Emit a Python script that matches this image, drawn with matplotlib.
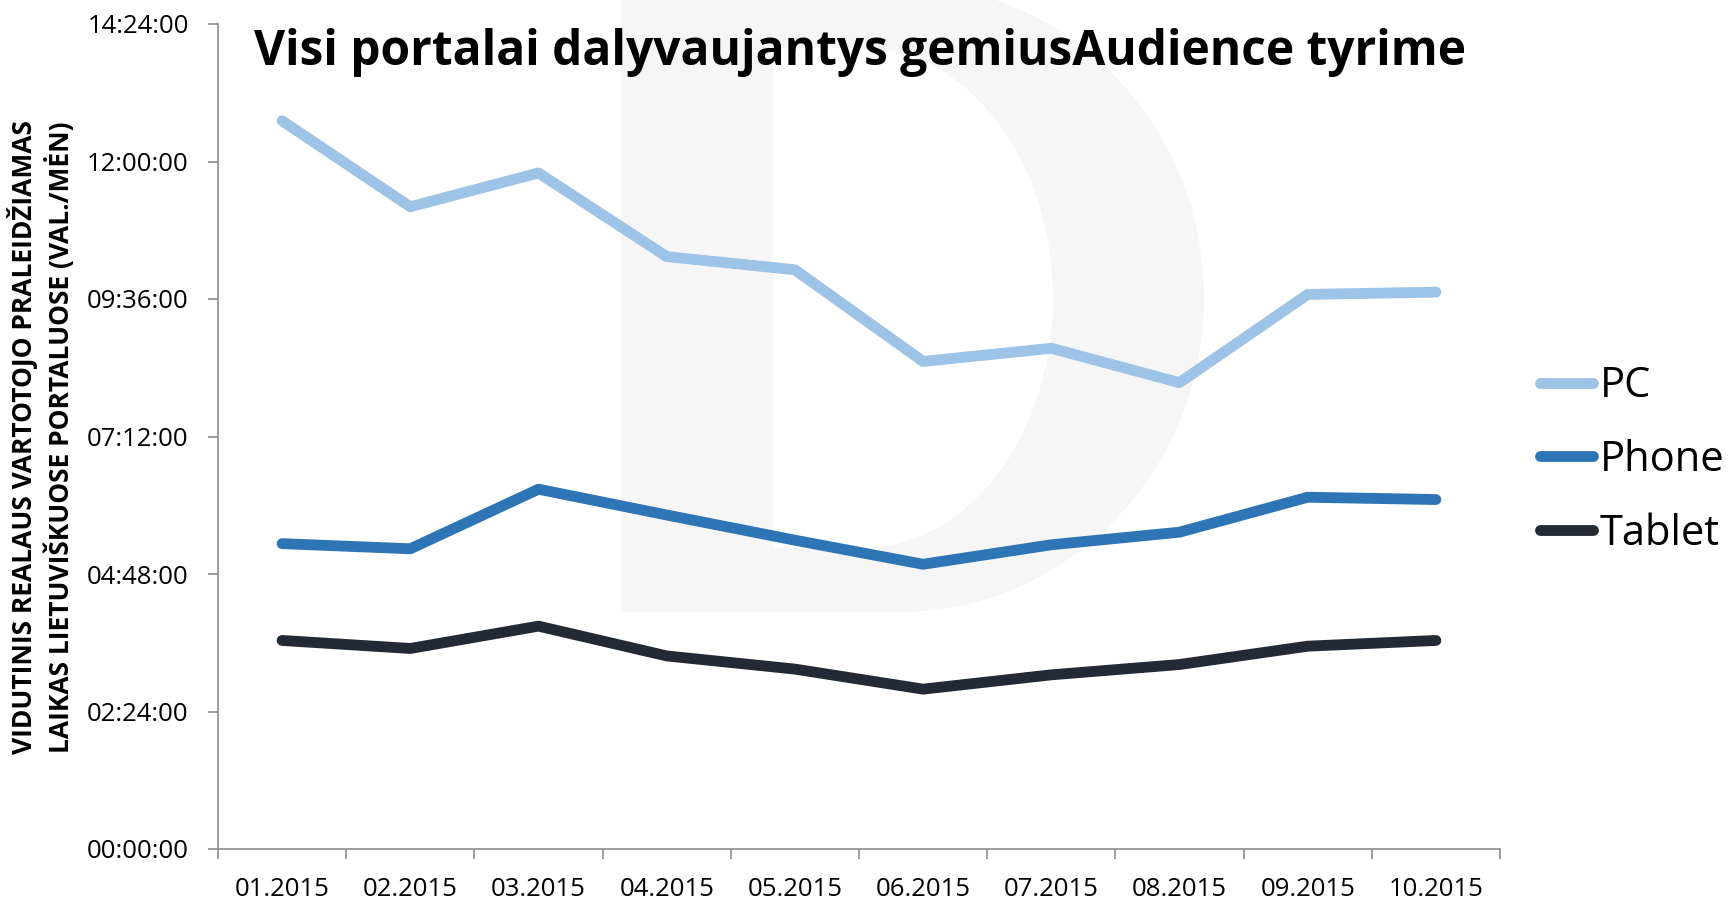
import matplotlib.pyplot as plt
import numpy as np
from matplotlib.path import Path
from matplotlib.patches import PathPatch
from matplotlib.ticker import FuncFormatter, MultipleLocator, FixedLocator

plt.rcParams['font.family'] = ['Open Sans', 'DejaVu Sans']

# Data (hours per month)
months = ['01.2015', '02.2015', '03.2015', '04.2015', '05.2015',
          '06.2015', '07.2015', '08.2015', '09.2015', '10.2015']
pc = [12.71, 11.21, 11.80, 10.34, 10.11, 8.51, 8.74, 8.14, 9.68, 9.72]
phone = [5.33, 5.24, 6.28, 5.83, 5.39, 4.97, 5.31, 5.53, 6.14, 6.10]
tablet = [3.64, 3.50, 3.89, 3.37, 3.14, 2.79, 3.04, 3.22, 3.54, 3.64]

series = [('PC', pc, '#9dc3e6'), ('Phone', phone, '#2e75b6'), ('Tablet', tablet, '#222a35')]

W, H = 1729, 902
fig = plt.figure(figsize=(W / 100, H / 100), dpi=100)


# light "D" watermark behind the chart (pixel coords from top-left)
def px(x, y):
    return (x / W, 1 - y / H)


def half_ellipse(cx, cy, rx, ry, a0, a1, n=60):
    t = np.linspace(a0, a1, n)
    return [px(cx + rx * np.cos(a), cy - ry * np.sin(a)) for a in t]


outer = [px(621, 612), px(900, 612)] + half_ellipse(900, 298, 304, 314, -np.pi / 2, np.pi / 2) + [px(621, -16), px(621, 612)]
inner = [px(773, 548), px(773, 48), px(862, 48)] + half_ellipse(862, 298, 191, 250, np.pi / 2, -np.pi / 2) + [px(773, 548)]
verts = outer + inner
codes = ([Path.MOVETO] + [Path.LINETO] * (len(outer) - 2) + [Path.CLOSEPOLY]
         + [Path.MOVETO] + [Path.LINETO] * (len(inner) - 2) + [Path.CLOSEPOLY])
dpatch = PathPatch(Path(verts, codes), facecolor='#f6f6f6', edgecolor='none',
                   transform=fig.transFigure, zorder=-5)
fig.patches.append(dpatch)

ax = fig.add_axes([218 / W, 1 - 849 / H, (1500 - 218) / W, (849 - 24) / H])
ax.patch.set_alpha(0)
ax.set_zorder(2)

x = np.arange(len(months))
for name, vals, col in series:
    ax.plot(x, vals, color=col, lw=7.8, label=name, solid_capstyle='round', zorder=3)

ax.set_xlim(-0.5, len(months) - 0.5)
ax.set_ylim(0, 14.4)

ax.yaxis.set_major_locator(MultipleLocator(2.4))


def hms(v, pos):
    s = int(round(v * 3600))
    return f'{s // 3600:02d}:{(s % 3600) // 60:02d}:{s % 60:02d}'


ax.yaxis.set_major_formatter(FuncFormatter(hms))

ax.xaxis.set_major_locator(FixedLocator(np.arange(-0.5, len(months), 1.0)))
ax.xaxis.set_major_formatter(FuncFormatter(lambda v, p: ''))
ax.xaxis.set_minor_locator(FixedLocator(x))
ax.set_xticklabels(months, minor=True)

for s in ['top', 'right']:
    ax.spines[s].set_visible(False)
for s in ['left', 'bottom']:
    ax.spines[s].set_color('#8c8c8c')
    ax.spines[s].set_linewidth(1.2)

ax.tick_params(axis='y', which='major', length=7, width=1.2, color='#8c8c8c',
               labelsize=18.5, pad=14, labelcolor='black')
ax.tick_params(axis='x', which='major', length=7, width=1.2, color='#8c8c8c')
ax.tick_params(axis='x', which='minor', length=0, labelsize=18.5, pad=20, labelcolor='black')

fig.text(41 / W, 1 - 437 / H,
         'VIDUTINIS REALAUS VARTOTOJO PRALEIDŽIAMAS\nLAIKAS LIETUVIŠKUOSE PORTALUOSE (VAL./MĖN)',
         rotation=90, ha='center', va='center', fontsize=19, fontweight='bold',
         linespacing=1.25, multialignment='center')

fig.text(254 / W, 1 - 65 / H, 'Visi portalai dalyvaujantys gemiusAudience tyrime',
         ha='left', va='baseline', fontsize=34.5, fontweight='bold')

leg = fig.legend(loc='center left', bbox_to_anchor=(1540 / W, 1 - 460 / H),
                 frameon=False, fontsize=30, handlelength=1.27, handletextpad=0.17,
                 labelspacing=0.76, borderpad=0, borderaxespad=0)

fig.savefig('out.png', dpi=100)
